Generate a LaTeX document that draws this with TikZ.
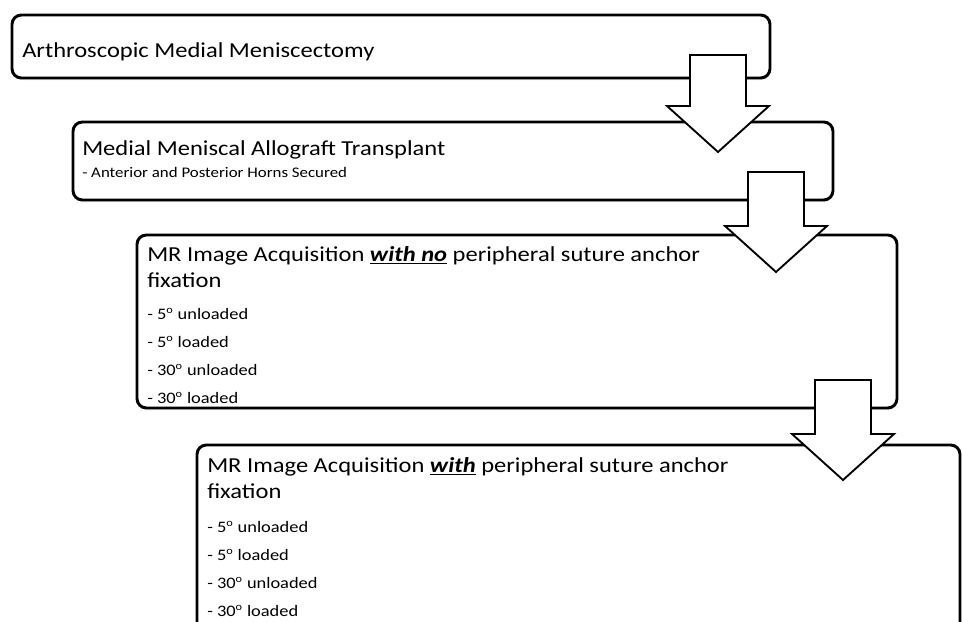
\documentclass[tikz,border=0pt]{standalone}
\usepackage{fontspec}
\setmainfont{Carlito}[FakeStretch=1.15]
\usetikzlibrary{calc,fit,shadows}

% hollow block arrow from a shaft top (#1) down to its tip (#2)
\newcommand{\blockarrow}[2]{%
  \draw[barrow] ($(#1)+(-28,0)$) -- ($(#1)+(28,0)$) -- ($(#2)+(28,-46)$)
    -- ($(#2)+(51,-46)$) -- (#2) -- ($(#2)+(-51,-46)$) -- ($(#2)+(-28,-46)$) -- cycle;}

\begin{document}
\begin{tikzpicture}[
  x=0.75pt,y=-0.75pt,
  box/.style={draw=black,line width=2.2pt,rounded corners=7pt,fill=white,inner sep=0pt,
    drop shadow={opacity=0.18,shadow xshift=0.6pt,shadow yshift=-1.6pt}},
  barrow/.style={draw=black,line width=1.4pt,fill=white,line join=miter},
  head/.style={anchor=base west,inner sep=0pt,font=\fontsize{16}{19}\selectfont},
  sub/.style={anchor=base west,inner sep=0pt,font=\fontsize{11}{13}\selectfont},
  item/.style={anchor=base west,inner sep=0pt,font=\fontsize{12}{14}\selectfont}
]
\clip (0,0) rectangle (962,621);

% the four stages
\node[box,fit={(12,15) (770,78)}] (b1) {};
\node[box,fit={(73,122) (833,200)}] (b2) {};
\node[box,fit={(137,235) (897,408)}] (b3) {};
\node[box,fit={(197,445) (960,660)}] (b4) {};

% arrows between them
\coordinate (a1s) at (718,55);  \coordinate (a1e) at (718,152);
\coordinate (a2s) at (776,172); \coordinate (a2e) at (776,272);
\coordinate (a3s) at (843,380); \coordinate (a3e) at (843,480);
\blockarrow{a1s}{a1e}
\blockarrow{a2s}{a2e}
\blockarrow{a3s}{a3e}

% texts
\node[head] (t1) at (22,57) {Arthroscopic Medial Meniscectomy};
\node[head] (t2) at (82,155) {Medial Meniscal Allograft Transplant};
\node[sub] (t2a) at (82,177) {- Anterior and Posterior Horns Secured};

\node[head] (t3) at (147,261) {MR Image Acquisition \underline{\textbf{\textit{with no}}} peripheral suture anchor};
\node[head] (t3b) at (147,287) {fixation};
\node[head] (t4) at (207,472) {MR Image Acquisition \underline{\textbf{\textit{with}}} peripheral suture anchor};
\node[head] (t4b) at (207,498) {fixation};

\foreach \i/\what in {0/5\textsuperscript{o} unloaded,1/5\textsuperscript{o} loaded,
  2/30\textsuperscript{o} unloaded,3/30\textsuperscript{o} loaded}
{
  \node[item] (n\i) at (147,{319+\i*28.1}) {- \what};
  \node[item] (w\i) at (207,{532+\i*28.2}) {- \what};
}
\end{tikzpicture}
\end{document}
